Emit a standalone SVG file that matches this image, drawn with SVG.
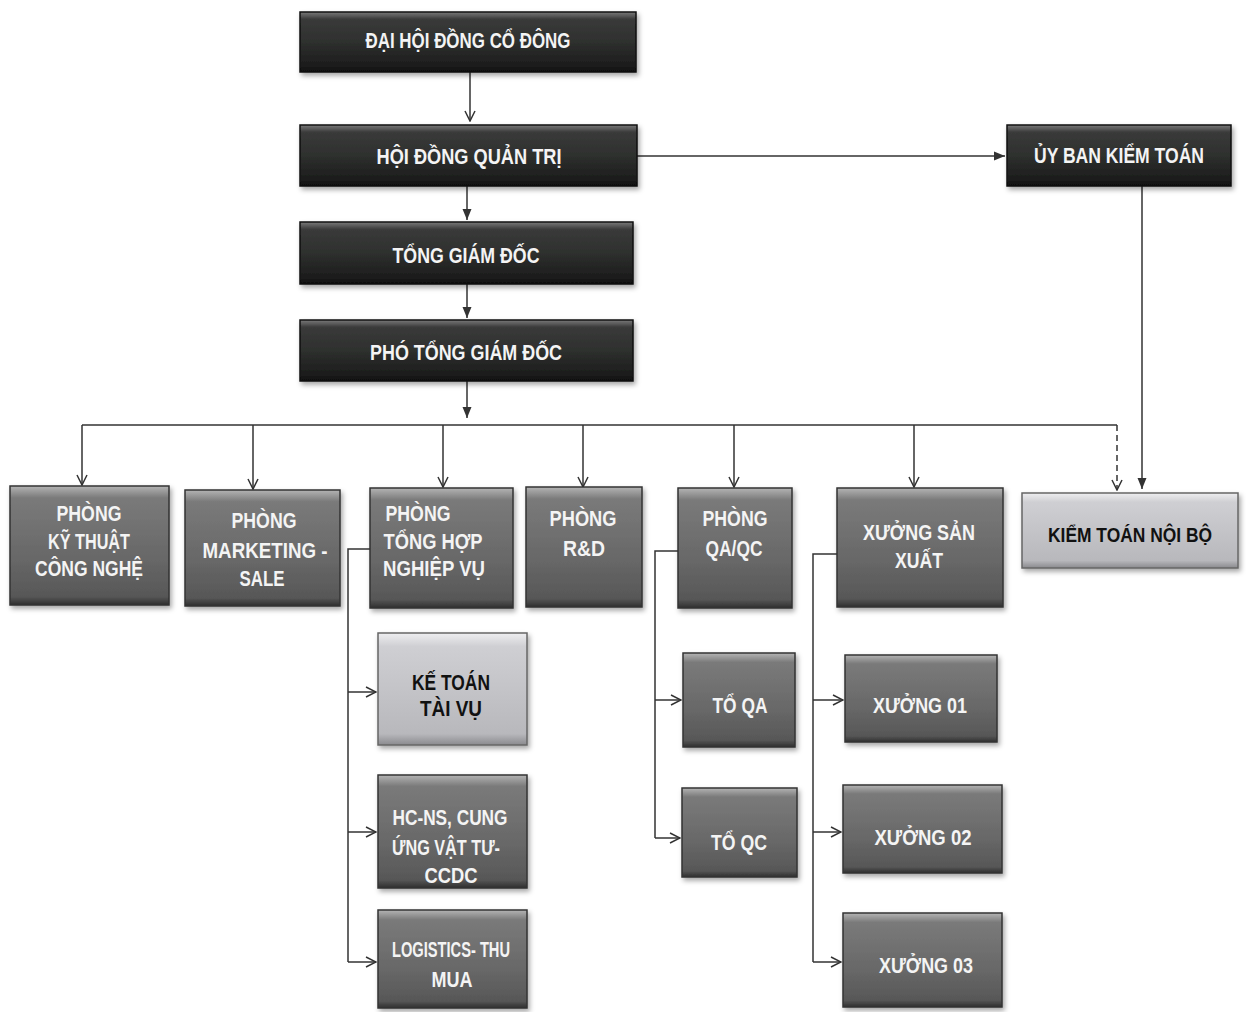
<svg xmlns="http://www.w3.org/2000/svg" width="1246" height="1012" viewBox="0 0 1246 1012">
<defs>
<linearGradient id="gDark" x1="0" y1="0" x2="0" y2="1">
<stop offset="0" stop-color="#7a7a7a"/><stop offset="0.12" stop-color="#3a3a3a"/><stop offset="0.5" stop-color="#2e302e"/><stop offset="0.9" stop-color="#1c1c1c"/><stop offset="1" stop-color="#0e0e0e"/>
</linearGradient>
<linearGradient id="gMid" x1="0" y1="0" x2="0" y2="1">
<stop offset="0" stop-color="#b4b4b4"/><stop offset="0.1" stop-color="#7a7a7a"/><stop offset="0.6" stop-color="#686868"/><stop offset="0.93" stop-color="#575757"/><stop offset="1" stop-color="#2e2e2e"/>
</linearGradient>
<linearGradient id="gLight" x1="0" y1="0" x2="0" y2="1">
<stop offset="0" stop-color="#eeeef0"/><stop offset="0.12" stop-color="#cfcfd3"/><stop offset="0.9" stop-color="#b8b8bc"/><stop offset="1" stop-color="#8a8a8e"/>
</linearGradient>
<filter id="sh" x="-10%" y="-10%" width="125%" height="140%">
<feDropShadow dx="2" dy="3" stdDeviation="2.5" flood-color="#000" flood-opacity="0.35"/>
</filter>
<marker id="aOpen" viewBox="0 0 12 12" refX="11" refY="6" markerWidth="12" markerHeight="12" markerUnits="userSpaceOnUse" orient="auto">
<path d="M1,1 L11,6 L1,11" fill="none" stroke="#333" stroke-width="1.5"/>
</marker>
<marker id="aFill" viewBox="0 0 12 12" refX="11" refY="6" markerWidth="12" markerHeight="12" markerUnits="userSpaceOnUse" orient="auto">
<path d="M0,1.5 L11,6 L0,10.5 Z" fill="#333"/>
</marker>
</defs>
<style>
.dark{fill:url(#gDark);stroke:#111;stroke-width:1.5;filter:url(#sh)}
.mid{fill:url(#gMid);stroke:#333;stroke-width:1.5;filter:url(#sh)}
.light{fill:url(#gLight);stroke:#666;stroke-width:1.5;filter:url(#sh)}
text{font-family:"Liberation Sans Narrow","Liberation Sans",Arial,sans-serif;font-weight:bold;font-size:22px;text-anchor:middle}
.w{fill:#f4f4f4}
.b{fill:#111}
.sm{font-size:20px}
.ln{fill:none;stroke:#333;stroke-width:1.5}
.op{marker-end:url(#aOpen)}
.fl{marker-end:url(#aFill)}
.ds{stroke-dasharray:6 4}
</style>

<g id="connectors">
<line class="ln op" x1="470" y1="72" x2="470" y2="121"/>
<line class="ln fl" x1="467" y1="186" x2="467" y2="220"/>
<line class="ln fl" x1="467" y1="284" x2="467" y2="318"/>
<line class="ln fl" x1="467" y1="381" x2="467" y2="418"/>
<line class="ln fl" x1="637" y1="156" x2="1005" y2="156"/>
<line class="ln fl" x1="1142" y1="186" x2="1142" y2="489"/>
<polyline class="ln" points="82,425 1117,425"/>
<line class="ln ds op" x1="1117" y1="425" x2="1117" y2="490"/>
<line class="ln op" x1="82" y1="425" x2="82" y2="485"/>
<line class="ln op" x1="253" y1="425" x2="253" y2="489"/>
<line class="ln op" x1="443" y1="425" x2="443" y2="487"/>
<line class="ln op" x1="583" y1="425" x2="583" y2="487"/>
<line class="ln op" x1="734" y1="425" x2="734" y2="487"/>
<line class="ln op" x1="914" y1="425" x2="914" y2="487"/>
<polyline class="ln" points="370,549 348,549 348,962"/>
<line class="ln op" x1="348" y1="692" x2="376" y2="692"/>
<line class="ln op" x1="348" y1="832" x2="376" y2="832"/>
<line class="ln op" x1="348" y1="962" x2="376" y2="962"/>
<polyline class="ln" points="678,551 655,551 655,838"/>
<line class="ln op" x1="655" y1="700" x2="681" y2="700"/>
<line class="ln op" x1="655" y1="838" x2="680" y2="838"/>
<polyline class="ln" points="837,554 813,554 813,962"/>
<line class="ln op" x1="813" y1="700" x2="843" y2="700"/>
<line class="ln op" x1="813" y1="832" x2="841" y2="832"/>
<line class="ln op" x1="813" y1="962" x2="841" y2="962"/>
</g>

<g id="n-dhdcd"><rect class="dark" x="300" y="12" width="336" height="60"/><text class="w" x="468" y="48" textLength="205" lengthAdjust="spacingAndGlyphs">ĐẠI HỘI ĐỒNG CỔ ĐÔNG</text></g>
<g id="n-hdqt"><rect class="dark" x="300" y="125" width="337" height="61"/><text class="w" x="469" y="164" textLength="185" lengthAdjust="spacingAndGlyphs">HỘI ĐỒNG QUẢN TRỊ</text></g>
<g id="n-tgd"><rect class="dark" x="300" y="222" width="333" height="62"/><text class="w" x="466" y="263" textLength="147" lengthAdjust="spacingAndGlyphs">TỔNG GIÁM ĐỐC</text></g>
<g id="n-ptgd"><rect class="dark" x="300" y="320" width="333" height="61"/><text class="w" x="466" y="360" textLength="192" lengthAdjust="spacingAndGlyphs">PHÓ TỔNG GIÁM ĐỐC</text></g>
<g id="n-ubkt"><rect class="dark" x="1007" y="125" width="224" height="61"/><text class="w" x="1119" y="163" textLength="170" lengthAdjust="spacingAndGlyphs">ỦY BAN KIỂM TOÁN</text></g>

<g id="n-ktcn"><rect class="mid" x="10" y="486" width="159" height="119"/>
<text class="w" x="89" y="521" textLength="65" lengthAdjust="spacingAndGlyphs">PHÒNG</text>
<text class="w" x="89" y="549" textLength="82" lengthAdjust="spacingAndGlyphs">KỸ THUẬT</text>
<text class="w" x="89" y="576" textLength="108" lengthAdjust="spacingAndGlyphs">CÔNG NGHỆ</text></g>
<g id="n-mkt"><rect class="mid" x="185" y="490" width="155" height="116"/>
<text class="w" x="264" y="528" textLength="65" lengthAdjust="spacingAndGlyphs">PHÒNG</text>
<text class="w" x="265" y="558" textLength="125" lengthAdjust="spacingAndGlyphs">MARKETING -</text>
<text class="w" x="262" y="586" textLength="45" lengthAdjust="spacingAndGlyphs">SALE</text></g>
<g id="n-thnv"><rect class="mid" x="370" y="488" width="143" height="120"/>
<text class="w" x="418" y="521" textLength="65" lengthAdjust="spacingAndGlyphs">PHÒNG</text>
<text class="w" x="433" y="549" textLength="99" lengthAdjust="spacingAndGlyphs">TỔNG HỢP</text>
<text class="w" x="434" y="576" textLength="102" lengthAdjust="spacingAndGlyphs">NGHIỆP VỤ</text></g>
<g id="n-rd"><rect class="mid" x="526" y="487" width="116" height="120"/>
<text class="w" x="583" y="526" textLength="67" lengthAdjust="spacingAndGlyphs">PHÒNG</text>
<text class="w" x="584" y="556" textLength="42" lengthAdjust="spacingAndGlyphs">R&amp;D</text></g>
<g id="n-qaqc"><rect class="mid" x="678" y="488" width="114" height="120"/>
<text class="w" x="735" y="526" textLength="65" lengthAdjust="spacingAndGlyphs">PHÒNG</text>
<text class="w" x="734" y="556" textLength="57" lengthAdjust="spacingAndGlyphs">QA/QC</text></g>
<g id="n-xsx"><rect class="mid" x="837" y="488" width="166" height="119"/>
<text class="w" x="919" y="540" textLength="112" lengthAdjust="spacingAndGlyphs">XƯỞNG SẢN</text>
<text class="w" x="919" y="568" textLength="48" lengthAdjust="spacingAndGlyphs">XUẤT</text></g>
<g id="n-ktnb"><rect class="light" x="1022" y="493" width="216" height="75"/>
<text class="b sm" x="1130" y="542" textLength="164" lengthAdjust="spacingAndGlyphs">KIỂM TOÁN NỘI BỘ</text></g>

<g id="n-kttv"><rect class="light" x="378" y="633" width="149" height="112"/>
<text class="b" x="451" y="690" textLength="78" lengthAdjust="spacingAndGlyphs">KẾ TOÁN</text>
<text class="b" x="451" y="716" textLength="62" lengthAdjust="spacingAndGlyphs">TÀI VỤ</text></g>
<g id="n-hcns"><rect class="mid" x="378" y="775" width="149" height="113"/>
<text class="w" x="450" y="825" textLength="115" lengthAdjust="spacingAndGlyphs">HC-NS, CUNG</text>
<text class="w" x="446" y="855" textLength="108" lengthAdjust="spacingAndGlyphs">ỨNG VẬT TƯ-</text>
<text class="w" x="451" y="883" textLength="53" lengthAdjust="spacingAndGlyphs">CCDC</text></g>
<g id="n-log"><rect class="mid" x="378" y="910" width="149" height="98"/>
<text class="w" x="451" y="957" textLength="118" lengthAdjust="spacingAndGlyphs">LOGISTICS- THU</text>
<text class="w" x="452" y="987" textLength="41" lengthAdjust="spacingAndGlyphs">MUA</text></g>

<g id="n-toqa"><rect class="mid" x="683" y="653" width="112" height="94"/>
<text class="w" x="740" y="713" textLength="55" lengthAdjust="spacingAndGlyphs">TỔ QA</text></g>
<g id="n-toqc"><rect class="mid" x="682" y="788" width="115" height="89"/>
<text class="w" x="739" y="850" textLength="56" lengthAdjust="spacingAndGlyphs">TỔ QC</text></g>

<g id="n-x01"><rect class="mid" x="845" y="655" width="152" height="87"/>
<text class="w" x="920" y="713" textLength="94" lengthAdjust="spacingAndGlyphs">XƯỞNG 01</text></g>
<g id="n-x02"><rect class="mid" x="843" y="785" width="159" height="88"/>
<text class="w" x="923" y="845" textLength="97" lengthAdjust="spacingAndGlyphs">XƯỞNG 02</text></g>
<g id="n-x03"><rect class="mid" x="843" y="913" width="159" height="94"/>
<text class="w" x="926" y="973" textLength="94" lengthAdjust="spacingAndGlyphs">XƯỞNG 03</text></g>
</svg>
